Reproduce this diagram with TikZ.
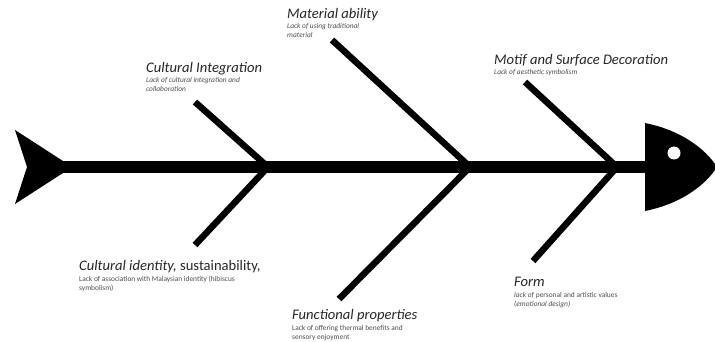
\documentclass[tikz,border=0pt]{standalone}
\usepackage{fontspec}
\setmainfont{Carlito}
\begin{document}
\begin{tikzpicture}[x=1pt,y=-1pt,
  bone/.style={line width=6.5pt,draw=black,line cap=butt},
  spine/.style={line width=12pt,draw=black},
  ttl/.style={anchor=base west,inner sep=0pt,font=\fontsize{14.6}{16}\selectfont\itshape,text=black!85},
  sub/.style={anchor=base west,inner sep=0pt,align=left,font=\fontsize{7.4}{9}\selectfont,text=black!70},
  subit/.style={sub,font=\fontsize{7.4}{9}\selectfont\itshape}]
\useasboundingbox (0,0) rectangle (715,342);
% tail and head
\fill[black] (15,130) -- (63,161) -- (63,173) -- (15,204) -- (27,167) -- cycle;
\fill[black] (645,123) .. controls (680,130) and (705,148) .. (717,167)
  .. controls (705,186) and (680,204) .. (645,211) -- cycle;
\fill[white] (674,153) ellipse (6.5pt and 6.5pt);
% spine
\coordinate (tail) at (62,167);
\coordinate (head) at (646,167);
\draw[spine] (tail) -- (head);
% bones
\coordinate (j1) at (268,167);
\coordinate (j2) at (470,167);
\coordinate (j3) at (617,167);
\coordinate (a1) at (195,102);
\coordinate (b1) at (195,245);
\coordinate (a2) at (332,40);
\coordinate (b2) at (339,299);
\coordinate (a3) at (525,82);
\coordinate (b3) at (533,261);
\draw[bone] (a1) -- (j1);
\draw[bone] (j1) -- (b1);
\draw[bone] (a2) -- (j2);
\draw[bone] (j2) -- (b2);
\draw[bone] (a3) -- (j3);
\draw[bone] (j3) -- (b3);
% labels
\node[ttl] (t1) at (146,72.5) {Cultural Integration};
\node[subit] (s1) at (146,92) {Lack of cultural integration and\\collaboration};
\node[ttl] (t2) at (287,18.5) {Material ability};
\node[subit] (s2) at (287,38) {Lack of using traditional\\material};
\node[ttl] (t3) at (494,64.5) {Motif and Surface Decoration};
\node[subit] (s3) at (494,74.5) {Lack of aesthetic symbolism};
\node[ttl] (t4) at (79,270.5) {Cultural identity, \upshape sustainability,};
\node[sub] (s4) at (79,290) {Lack of association with Malaysian identity (hibiscus\\symbolism)};
\node[ttl] (t5) at (292,319.5) {Functional properties};
\node[sub] (s5) at (292,339) {Lack of offering thermal benefits and\\sensory enjoyment};
\node[ttl] (t6) at (514,286.5) {Form};
\node[sub] (s6) at (514,306) {\textit{lack of} personal and artistic values\\\textit{(emotional design)}};
\end{tikzpicture}
\end{document}
